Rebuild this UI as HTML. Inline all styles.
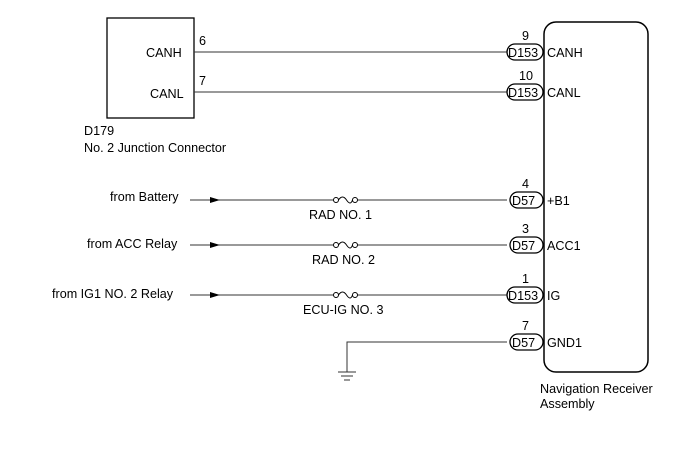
<!DOCTYPE html>
<html><head><style>
body{margin:0;background:#fff}
svg text{font-family:"Liberation Sans",Arial,sans-serif;font-size:12.6px;fill:#000}
</style></head><body>
<svg width="688" height="463" viewBox="0 0 688 463" xmlns="http://www.w3.org/2000/svg">
<rect x="107" y="18" width="87" height="100" fill="none" stroke="#000" stroke-width="1.3"/>
<text x="146" y="57">CANH</text>
<text x="150" y="98">CANL</text>
<text x="84" y="135">D179</text>
<text x="84" y="152">No. 2 Junction Connector</text>
<text x="199" y="45">6</text>
<text x="199" y="85">7</text>
<rect x="544" y="22" width="104" height="350" rx="12" fill="none" stroke="#000" stroke-width="1.5"/>
<g stroke="#333" stroke-width="1" fill="none">
<line x1="194" y1="52" x2="507" y2="52"/>
<line x1="194" y1="92" x2="507" y2="92"/>
<line x1="190" y1="200" x2="333" y2="200"/><line x1="358" y1="200" x2="507" y2="200"/>
<line x1="190" y1="245" x2="333" y2="245"/><line x1="358" y1="245" x2="507" y2="245"/>
<line x1="190" y1="295" x2="333" y2="295"/><line x1="358" y1="295" x2="507" y2="295"/>
<polyline points="507,342 347,342 347,372"/>
<line x1="338" y1="372" x2="356" y2="372"/>
<line x1="341" y1="376" x2="353" y2="376"/>
<line x1="344" y1="380" x2="350" y2="380"/>
</g>
<g fill="#000">
<polygon points="210,197 220,200 210,203"/>
<polygon points="210,242 220,245 210,248"/>
<polygon points="210,292 220,295 210,298"/>
</g>
<g stroke="#000" stroke-width="1" fill="#fff">
<circle cx="336" cy="200" r="2.5"/><circle cx="355" cy="200" r="2.5"/>
<circle cx="336" cy="245" r="2.5"/><circle cx="355" cy="245" r="2.5"/>
<circle cx="336" cy="295" r="2.5"/><circle cx="355" cy="295" r="2.5"/>
<path d="M338.5,200 q4,-6 8,0 q4,6 6,0" fill="none"/>
<path d="M338.5,245 q4,-6 8,0 q4,6 6,0" fill="none"/>
<path d="M338.5,295 q4,-6 8,0 q4,6 6,0" fill="none"/>
</g>
<text x="309" y="219">RAD NO. 1</text>
<text x="312" y="264">RAD NO. 2</text>
<text x="303" y="314">ECU-IG NO. 3</text>
<text x="110" y="201">from Battery</text>
<text x="87" y="248">from ACC Relay</text>
<text x="52" y="298">from IG1 NO. 2 Relay</text>
<g stroke="#000" stroke-width="1.3" fill="#fff">
<rect x="507" y="44" width="36" height="16" rx="8"/>
<rect x="507" y="84" width="36" height="16" rx="8"/>
<rect x="510" y="192" width="33" height="16" rx="8"/>
<rect x="510" y="237" width="33" height="16" rx="8"/>
<rect x="507" y="287" width="36" height="16" rx="8"/>
<rect x="510" y="334" width="33" height="16" rx="8"/>
</g>
<text x="508" y="57">D153</text><text x="547" y="57">CANH</text><text x="522" y="40">9</text>
<text x="508" y="97">D153</text><text x="547" y="97">CANL</text><text x="519" y="80">10</text>
<text x="512" y="205">D57</text><text x="547" y="205">+B1</text><text x="522" y="188">4</text>
<text x="512" y="250">D57</text><text x="547" y="250">ACC1</text><text x="522" y="233">3</text>
<text x="508" y="300">D153</text><text x="547" y="300">IG</text><text x="522" y="283">1</text>
<text x="512" y="347">D57</text><text x="547" y="347">GND1</text><text x="522" y="330">7</text>
<text x="540" y="393">Navigation Receiver</text>
<text x="540" y="408">Assembly</text>
</svg>
</body></html>
